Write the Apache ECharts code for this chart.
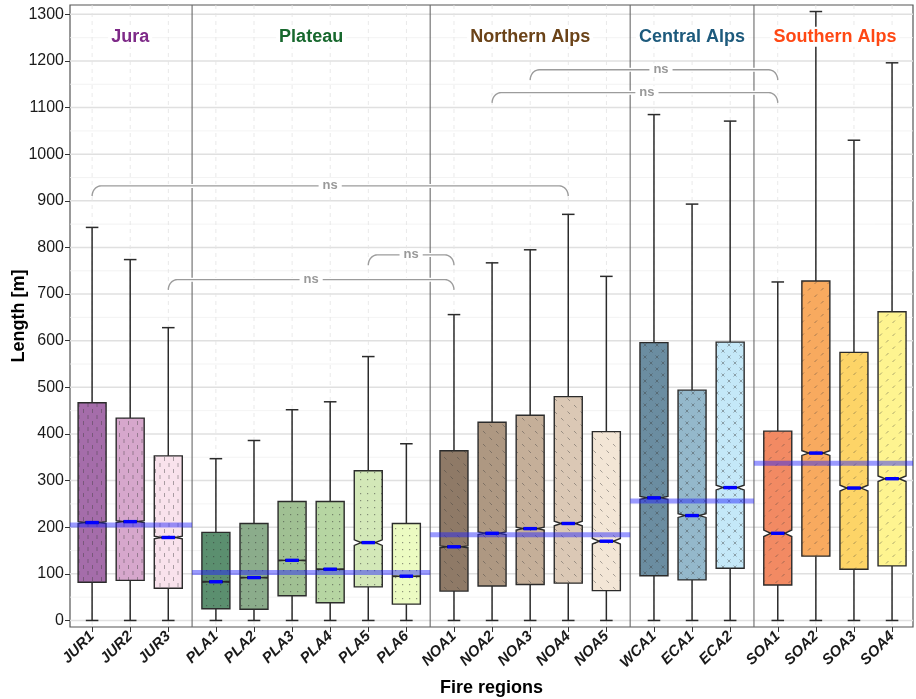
<!DOCTYPE html>
<html><head><meta charset="utf-8">
<script src="https://cdn.jsdelivr.net/npm/echarts@6/dist/echarts.min.js"></script>
<style>html,body{margin:0;padding:0;background:#fff}#c{width:916px;height:699px}</style>
</head><body><div id="c"></div>
<script>
// ---------------- data ----------------
const categories = ['JUR1','JUR2','JUR3','PLA1','PLA2','PLA3','PLA4','PLA5','PLA6','NOA1','NOA2','NOA3','NOA4','NOA5','WCA1','ECA1','ECA2','SOA1','SOA2','SOA3','SOA4'];
const groupOf    = [0,0,0,1,1,1,1,1,1,2,2,2,2,2,3,3,3,4,4,4,4];
const regionNames  = ['Jura','Plateau','Northern Alps','Central Alps','Southern Alps'];
const regionColors = ['#7E2A88','#17682D','#6B4318','#1D5A7C','#FF4814'];
const regionMean   = [205, 103, 184, 256, 337];
const whiskerLow  = [0,0,0,0,0,0,0,0,0,0,0,0,0,0,0,0,0,0,0,0,0];
const q1          = [82, 86, 69, 25, 24, 53, 38, 72, 35, 63, 74, 77, 80, 64, 96, 87, 112, 76, 138, 110, 117];
const median      = [210,212,178, 83, 92,129,110,167, 95,158,187,197,208,170,263,225,285,187,359,284,304];
const q3          = [467,434,353,189,208,255,255,321,208,364,425,440,480,405,596,494,597,406,728,575,662];
const whiskerHigh = [843,774,628,347,386,452,469,566,379,656,767,795,871,738,1085,893,1071,726,1306,1030,1196];
const notchHalf   = [2,2,3,1,1,1,1,6,1,2,3,3,5,6,3,4,5,7,5,6,6];
const boxColors = ['#A56DAA','#D6A7CC','#F9E2EC',
                   '#5B8F6F','#8BAC8B','#A0C093','#B6D5A2','#D3E8B8','#ECFBC2',
                   '#8F7A67','#AE9882','#C5AF99','#DBC8B5','#F3E6D6',
                   '#6B8DA1','#94B8CB','#C4E8F8',
                   '#F28A63','#F8AA5F','#FDD467','#FEF490'];
const bracketFrom  = ['JUR1','JUR3','PLA5','NOA2','NOA3'];
const bracketTo    = ['NOA4','NOA1','NOA1','SOA1','SOA1'];
const bracketY     = [932, 731, 784, 1132, 1181];
const bracketLabel = ['ns','ns','ns','ns','ns'];
const yTicks      = [0,100,200,300,400,500,600,700,800,900,1000,1100,1200,1300];
const yMinorTicks = [50,150,250,350,450,550,650,750,850,950,1050,1150,1250];

// ---------------- layout constants ----------------
const GAP = 0.25, X_MIN = -0.58, X_MAX = 21.55, Y_MIN = -14, Y_MAX = 1320;
const BOX_W = 0.735, CAP_W = 0.33, MARK_W = 0.35, DROP = 22, TITLE_Y = 1252;
const LABEL_NUDGE_PX = [0, 0, 0, 12, 7];
const FONT = 'Liberation Sans, Arial, sans-serif';
const positions = categories.map((c, i) => i + groupOf[i] * GAP);
const nGroups = regionNames.length;
const firstIdx = [], lastIdx = [];
groupOf.forEach((g, i) => { if (firstIdx[g] == null) firstIdx[g] = i; lastIdx[g] = i; });
const separators = [];
for (let g = 1; g < nGroups; g++) separators.push((positions[lastIdx[g-1]] + positions[firstIdx[g]]) / 2);
const groupLeft  = regionNames.map((n, g) => g === 0 ? X_MIN : separators[g-1]);
const groupRight = regionNames.map((n, g) => g === nGroups - 1 ? X_MAX : separators[g]);
const groupCenter = regionNames.map((n, g) => (positions[firstIdx[g]] + positions[lastIdx[g]]) / 2);

// ---------------- hatch patterns ----------------
function makePattern(kind) {
  const c = document.createElement('canvas');
  const s = { vdash: [9, 12], dot: [7, 7], bslash: [13, 13], cross: [12, 12], slash: [13, 13] }[kind];
  c.width = s[0]; c.height = s[1];
  const ctx = c.getContext('2d');
  ctx.strokeStyle = 'rgba(60,60,60,0.42)'; ctx.fillStyle = 'rgba(50,50,50,0.5)'; ctx.lineWidth = 1;
  ctx.beginPath();
  if (kind === 'vdash') { ctx.moveTo(2.5, 1); ctx.lineTo(2.5, 5); ctx.moveTo(7, 7); ctx.lineTo(7, 11); }
  if (kind === 'dot') { ctx.fillRect(3, 3, 1.2, 1.2); }
  if (kind === 'bslash') { ctx.moveTo(2, 2); ctx.lineTo(4.5, 4.5); ctx.moveTo(8.5, 8.5); ctx.lineTo(11, 11); }
  if (kind === 'slash') { ctx.moveTo(4.5, 2); ctx.lineTo(2, 4.5); ctx.moveTo(11, 8.5); ctx.lineTo(8.5, 11); }
  if (kind === 'cross') { ctx.moveTo(1.5, 1.5); ctx.lineTo(4.5, 4.5); ctx.moveTo(4.5, 1.5); ctx.lineTo(1.5, 4.5);
                          ctx.moveTo(7.5, 7.5); ctx.lineTo(10.5, 10.5); ctx.moveTo(10.5, 7.5); ctx.lineTo(7.5, 10.5); }
  ctx.stroke();
  return { image: c, repeat: 'repeat' };
}
const groupPatterns = ['vdash', 'dot', 'bslash', 'cross', 'slash'].map(makePattern);

// ---------------- chart ----------------
const chart = echarts.init(document.getElementById('c'), null, { renderer: 'canvas' });
const idxOf = name => categories.indexOf(name);

const option = {
  animation: false,
  textStyle: { fontFamily: FONT },
  grid: { left: 70, right: 3, top: 5, bottom: 72, containLabel: false, outerBoundsMode: 'none',
          show: true, borderColor: '#555', borderWidth: 1.2, backgroundColor: '#fff' },
  xAxis: {
    type: 'value', min: X_MIN, max: X_MAX,
    name: 'Fire regions', nameLocation: 'middle', nameGap: 52, nameMoveOverlap: false,
    nameTextStyle: { fontSize: 18, fontWeight: 'bold', color: '#000', fontFamily: FONT },
    axisLine: { show: false, onZero: false },
    splitLine: { show: false },
    axisTick: { show: true, customValues: positions, length: 5, lineStyle: { color: '#333', width: 1 } },
    axisLabel: {
      customValues: positions, rotate: 45, margin: 7,
      fontSize: 15, fontWeight: 'bold', fontStyle: 'italic', color: '#1a1a1a', fontFamily: FONT,
      formatter: v => { let k = 0, d = 1e9; positions.forEach((p, i) => { if (Math.abs(p - v) < d) { d = Math.abs(p - v); k = i; } }); return categories[k]; }
    }
  },
  yAxis: {
    type: 'value', min: Y_MIN, max: Y_MAX,
    name: 'Length [m]', nameLocation: 'middle', nameGap: 42, nameMoveOverlap: false,
    nameTextStyle: { fontSize: 18, fontWeight: 'bold', color: '#000', fontFamily: FONT },
    axisLine: { show: false, onZero: false },
    splitLine: { show: false },
    axisTick: { show: true, customValues: yTicks, length: 5, lineStyle: { color: '#333', width: 1 } },
    axisLabel: { customValues: yTicks, fontSize: 16, color: '#1a1a1a', margin: 6, fontFamily: FONT, formatter: v => String(Math.round(v)) }
  },
  series: [
    { // minor horizontal grid
      type: 'custom', z: 1, silent: true, data: yMinorTicks.map(v => [v]), encode: { y: 0 },
      renderItem(params, api) {
        const cs = params.coordSys, y = api.coord([X_MIN, api.value(0)])[1];
        return { type: 'line', shape: { x1: cs.x, y1: y, x2: cs.x + cs.width, y2: y }, style: { stroke: '#F0F0F0', lineWidth: 0.8 } };
      }
    },
    { // major horizontal grid
      type: 'custom', z: 1, silent: true, data: yTicks.map(v => [v]), encode: { y: 0 },
      renderItem(params, api) {
        const cs = params.coordSys, y = api.coord([X_MIN, api.value(0)])[1];
        return { type: 'line', shape: { x1: cs.x, y1: y, x2: cs.x + cs.width, y2: y }, style: { stroke: '#E0E0E0', lineWidth: 1.5 } };
      }
    },
    { // vertical dashed grid at categories
      type: 'custom', z: 1, silent: true, data: positions.map(p => [p]), encode: { x: 0 },
      renderItem(params, api) {
        const cs = params.coordSys, x = api.coord([api.value(0), 0])[0];
        return { type: 'line', shape: { x1: x, y1: cs.y, x2: x, y2: cs.y + cs.height }, style: { stroke: '#E4E4E4', lineWidth: 0.8, lineDash: [4, 4] } };
      }
    },
    { // group separators
      type: 'custom', z: 2, silent: true, data: separators.map(p => [p]), encode: { x: 0 },
      renderItem(params, api) {
        const cs = params.coordSys, x = api.coord([api.value(0), 0])[0];
        return { type: 'line', shape: { x1: x, y1: cs.y, x2: x, y2: cs.y + cs.height }, style: { stroke: '#6a6a6a', lineWidth: 1.1 } };
      }
    },
    { // boxes
      type: 'custom', z: 5, silent: true,
      data: categories.map((c, i) => [positions[i], whiskerLow[i], q1[i], median[i], q3[i], whiskerHigh[i], notchHalf[i], i]),
      encode: { x: 0, y: [1, 2, 3, 4, 5] },
      renderItem(params, api) {
        const x = api.value(0), i = api.value(7);
        const cx = api.coord([x, 0])[0];
        const Y = v => api.coord([x, v])[1];
        const hw = api.size([BOX_W, 0])[0] / 2, chw = api.size([CAP_W, 0])[0] / 2, nw = hw / 2;
        const lo = Y(api.value(1)), b1 = Y(api.value(2)), md = Y(api.value(3)), b3 = Y(api.value(4)), hi = Y(api.value(5));
        const n1 = Y(api.value(3) - api.value(6)), n2 = Y(api.value(3) + api.value(6));
        const xl = cx - hw, xr = cx + hw;
        const pts = [[xl, b3], [xr, b3], [xr, n2], [xr - nw, md], [xr, n1], [xr, b1], [xl, b1], [xl, n1], [xl + nw, md], [xl, n2]];
        const ws = { stroke: '#2b2b2b', lineWidth: 1.5 };
        return { type: 'group', children: [
          { type: 'line', shape: { x1: cx, y1: b3, x2: cx, y2: hi }, style: ws },
          { type: 'line', shape: { x1: cx, y1: b1, x2: cx, y2: lo }, style: ws },
          { type: 'line', shape: { x1: cx - chw, y1: hi, x2: cx + chw, y2: hi }, style: ws },
          { type: 'line', shape: { x1: cx - chw, y1: lo, x2: cx + chw, y2: lo }, style: ws },
          { type: 'polygon', shape: { points: pts }, style: { fill: boxColors[i], stroke: null } },
          { type: 'polygon', shape: { points: pts }, style: { fill: groupPatterns[groupOf[i]], stroke: null } },
          { type: 'polygon', shape: { points: pts }, style: { fill: null, stroke: '#2b2b2b', lineWidth: 1.4 } },
          { type: 'line', shape: { x1: xl + nw, y1: md, x2: xr - nw, y2: md }, style: { stroke: '#000', lineWidth: 2.4 } }
        ] };
      }
    },
    { // region mean lines
      type: 'custom', z: 6, silent: true,
      data: regionMean.map((m, g) => [groupLeft[g], groupRight[g], m]), encode: { x: [0, 1], y: 2 },
      renderItem(params, api) {
        const p1 = api.coord([api.value(0), api.value(2)]), p2 = api.coord([api.value(1), api.value(2)]);
        return { type: 'line', shape: { x1: p1[0], y1: p1[1], x2: p2[0], y2: p2[1] }, style: { stroke: 'rgba(30,30,255,0.45)', lineWidth: 5 } };
      }
    },
    { // blue median marks
      type: 'custom', z: 7, silent: true,
      data: categories.map((c, i) => [positions[i], median[i]]), encode: { x: 0, y: 1 },
      renderItem(params, api) {
        const p = api.coord([api.value(0), api.value(1)]), w = api.size([MARK_W, 0])[0];
        return { type: 'rect', shape: { x: p[0] - w / 2, y: p[1] - 1.7, width: w, height: 3.4 }, style: { fill: '#0000FF' } };
      }
    },
    { // significance brackets
      type: 'custom', z: 8, silent: true,
      data: bracketFrom.map((f, k) => [positions[idxOf(f)], positions[idxOf(bracketTo[k])], bracketY[k], k]),
      encode: { x: [0, 1], y: 2 },
      renderItem(params, api) {
        const yv = api.value(2), k = api.value(3);
        const a = api.coord([api.value(0), yv]), b = api.coord([api.value(1), yv]);
        const yb = api.coord([api.value(0), yv - DROP])[1];
        const yl = a[1], rx = 9, ry = yb - yl;
        const pts = [];
        const N = 10;
        for (let j = 0; j <= N; j++) { const t = (Math.PI / 2) * j / N; pts.push([a[0] + rx - rx * Math.cos(t), yl + ry - ry * Math.sin(t)]); }
        for (let j = N; j >= 0; j--) { const t = (Math.PI / 2) * j / N; pts.push([b[0] - rx + rx * Math.cos(t), yl + ry - ry * Math.sin(t)]); }
        const mid = (a[0] + b[0]) / 2 + LABEL_NUDGE_PX[k];
        return { type: 'group', children: [
          { type: 'polyline', shape: { points: pts }, style: { stroke: '#fff', lineWidth: 4, fill: null } },
          { type: 'polyline', shape: { points: pts }, style: { stroke: '#9c9c9c', lineWidth: 1.4, fill: null } },
          { type: 'text', x: mid, y: yl, style: { text: bracketLabel[k], fill: '#999', font: 'bold 13px ' + FONT, align: 'center', verticalAlign: 'middle', backgroundColor: '#fff', padding: [0, 4] } }
        ] };
      }
    },
    { // region titles
      type: 'custom', z: 9, silent: true,
      data: regionNames.map((n, g) => [groupCenter[g], TITLE_Y, g]), encode: { x: 0, y: 1 },
      renderItem(params, api) {
        const g = api.value(2), p = api.coord([api.value(0), api.value(1)]);
        return { type: 'text', x: p[0], y: p[1], style: { text: regionNames[g], fill: regionColors[g], font: 'bold 18px ' + FONT, align: 'center', verticalAlign: 'middle', backgroundColor: '#fff', padding: [1, 3] } };
      }
    }
  ]
};
chart.setOption(option);
</script></body></html>
